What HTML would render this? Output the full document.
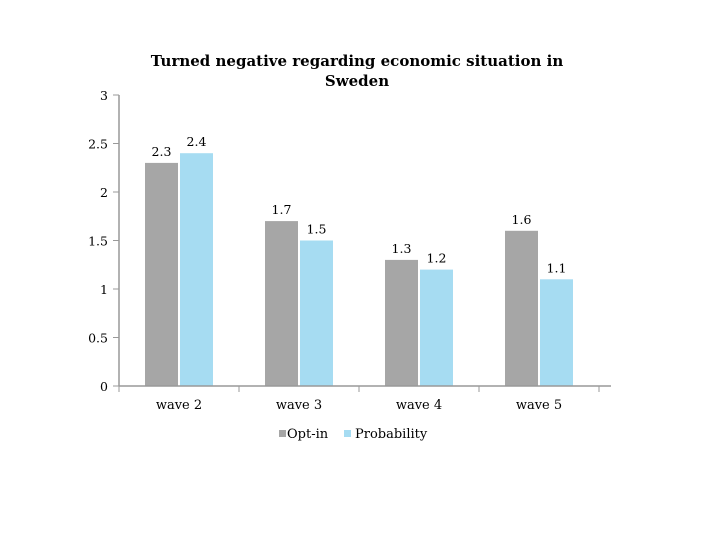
<!DOCTYPE html>
<html><head><meta charset="utf-8"><style>
body{margin:0;background:#fff;}
svg text{font-family:"DejaVu Serif","Liberation Serif",serif;fill:#000;}
</style></head><body>
<svg width="720" height="540" xmlns="http://www.w3.org/2000/svg" id="c">
<text x="357" y="66" text-anchor="middle" font-size="15" font-weight="bold">Turned negative regarding economic situation in</text>
<text x="357" y="86" text-anchor="middle" font-size="15" font-weight="bold">Sweden</text>
<g id="g"></g>
<rect x="279" y="430" width="7" height="7" fill="#a6a6a6"/>
<text x="287" y="438" font-size="13">Opt-in</text>
<rect x="344" y="430" width="7" height="7" fill="#a6dcf2"/>
<text x="355" y="438" font-size="13">Probability</text>
</svg>
<script>
const categories=["wave 2","wave 3","wave 4","wave 5"];
const optIn=[2.3,1.7,1.3,1.6];
const probability=[2.4,1.5,1.2,1.1];
const yTicks=[0,0.5,1,1.5,2,2.5,3];
const NS="http://www.w3.org/2000/svg";
const g=document.getElementById('g');
const x0=119,gw=120,y0=386,yTop=95,ymax=3;
const y=v=>y0-(v/ymax)*(y0-yTop);
function mk(t,a,p){const e=document.createElementNS(NS,t);for(const k in a)e.setAttribute(k,a[k]);(p||g).appendChild(e);return e;}
yTicks.forEach(t=>{
  const tk=mk('line',{x1:113,x2:119,y1:y(t),y2:y(t),stroke:'#999'});
  
  
  const tx=mk('text',{x:108,y:y(t)+5,'text-anchor':'end','font-size':12.5});
  tx.textContent=String(t);
  
  
});
categories.forEach((c,i)=>{
  const cx=x0+gw*(i+0.5);
  const series=[[optIn[i],'#a6a6a6',cx-34,'opt-in'],[probability[i],'#a6dcf2',cx+1,'probability']];
  series.forEach(([v,col,bx,nm])=>{
    const r=mk('rect',{x:bx,y:y(v),width:33,height:y0-y(v),fill:col});
    
    
    const t=mk('text',{x:bx+16.5,y:y(v)-7,'text-anchor':'middle','font-size':12.5});
    t.textContent=String(v);
    
    
  });
  const l=mk('text',{x:cx,y:409,'text-anchor':'middle','font-size':13});
  l.textContent=c;
  
  
});
for(let i=0;i<=categories.length;i++){
  const t=mk('line',{x1:x0+gw*i,x2:x0+gw*i,y1:y0,y2:y0+6,stroke:'#999'});
  
  
}
const ya=mk('line',{x1:x0,x2:x0,y1:yTop,y2:y0,stroke:'#999','stroke-width':1.5});


const xa=mk('line',{x1:x0,x2:x0+gw*categories.length+12,y1:y0,y2:y0,stroke:'#999','stroke-width':1.5});


</script>
</body></html>
